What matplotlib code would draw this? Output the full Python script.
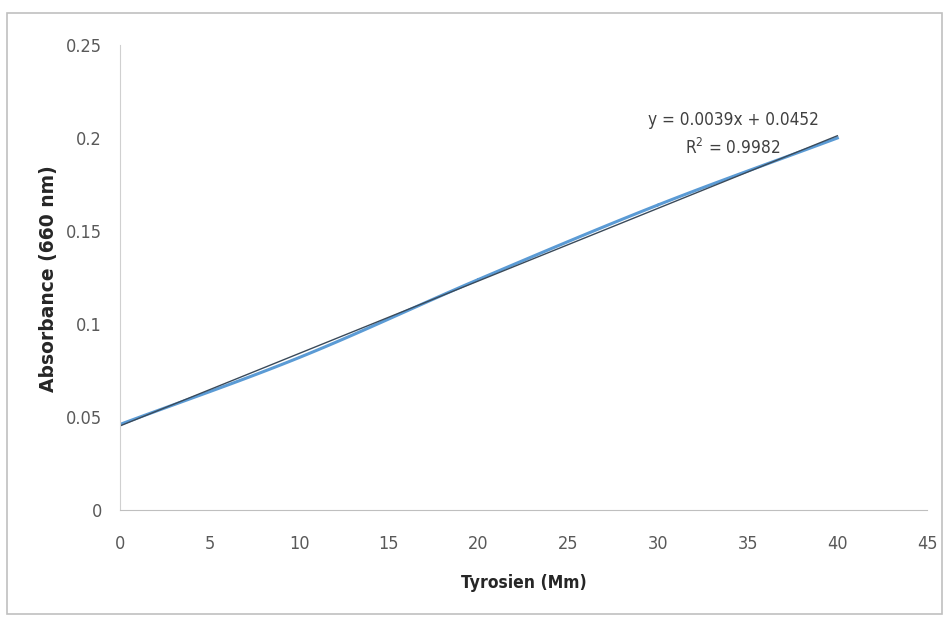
import numpy as np
import matplotlib.pyplot as plt
from matplotlib.patches import Rectangle

plt.rcParams['font.family'] = ['DejaVu Sans']
plt.rcParams['font.stretch'] = 'condensed'

# data
tyrosine = [0, 10, 20, 30, 40]
absorbance = [0.046, 0.082, 0.124, 0.164, 0.200]
slope = 0.0039
intercept = 0.0452
r2 = 0.9982


def smooth(x, y, n=30):
    # catmull-rom curve, like Excel's smoothed line
    x = np.asarray(x, float)
    y = np.asarray(y, float)
    px = np.concatenate([[2 * x[0] - x[1]], x, [2 * x[-1] - x[-2]]])
    py = np.concatenate([[2 * y[0] - y[1]], y, [2 * y[-1] - y[-2]]])
    xs, ys = [], []
    t = np.linspace(0, 1, n)
    for i in range(1, len(px) - 2):
        for p, out in ((px, xs), (py, ys)):
            p0, p1, p2, p3 = p[i - 1], p[i], p[i + 1], p[i + 2]
            out.extend(0.5 * (2 * p1 + (-p0 + p2) * t
                              + (2 * p0 - 5 * p1 + 4 * p2 - p3) * t ** 2
                              + (-p0 + 3 * p1 - 3 * p2 + p3) * t ** 3))
    return xs, ys


W, H = 944, 620
fig = plt.figure(figsize=(W / 100, H / 100), dpi=100)
fig.patches.append(Rectangle((7 / W, 6 / H), 935 / W, 601 / H,
                             transform=fig.transFigure, fill=False,
                             edgecolor='#c0c0c0', linewidth=1.2))
ax = fig.add_axes([120 / W, 1 - 510 / H, 807 / W, 465 / H])

sx, sy = smooth(tyrosine, absorbance)
ax.plot(sx, sy, color='#5b9bd5', linewidth=2.2)
tx = np.array([tyrosine[0], tyrosine[-1]])
ax.plot(tx, slope * tx + intercept, color='#3a4a5a', linewidth=1.0)

ax.set_xlim(0, 45)
ax.set_ylim(0, 0.25)
ax.set_xticks(np.arange(0, 46, 5))
ax.set_yticks([0, 0.05, 0.1, 0.15, 0.2, 0.25])
ax.set_yticklabels(['0', '0.05', '0.1', '0.15', '0.2', '0.25'])
ax.tick_params(length=0, labelsize=13, colors='#595959')
ax.tick_params(axis='y', pad=13)
ax.tick_params(axis='x', pad=18)
for s in ['top', 'right']:
    ax.spines[s].set_visible(False)
ax.spines['left'].set_color('#d0d0d0')
ax.spines['bottom'].set_color('#bfbfbf')

fig.text(524 / W, 1 - 583 / H, 'Tyrosien (Mm)', fontsize=12.5,
         fontweight='bold', ha='center', va='center', color='#262626')
fig.text(49 / W, 1 - 279 / H, 'Absorbance (660 nm)', fontsize=13.5,
         fontweight='bold', fontstretch='normal', rotation=90,
         ha='center', va='center', color='#262626')

fig.text(733 / W, 1 - 120 / H, 'y = %.4fx + %.4f' % (slope, intercept),
         fontsize=12.3, ha='center', va='center', color='#404040')
fig.text(733 / W, 1 - 148 / H, 'R$^2$ = %.4f' % r2,
         fontsize=12.3, ha='center', va='center', color='#404040')

fig.savefig('out.png', dpi=100)
